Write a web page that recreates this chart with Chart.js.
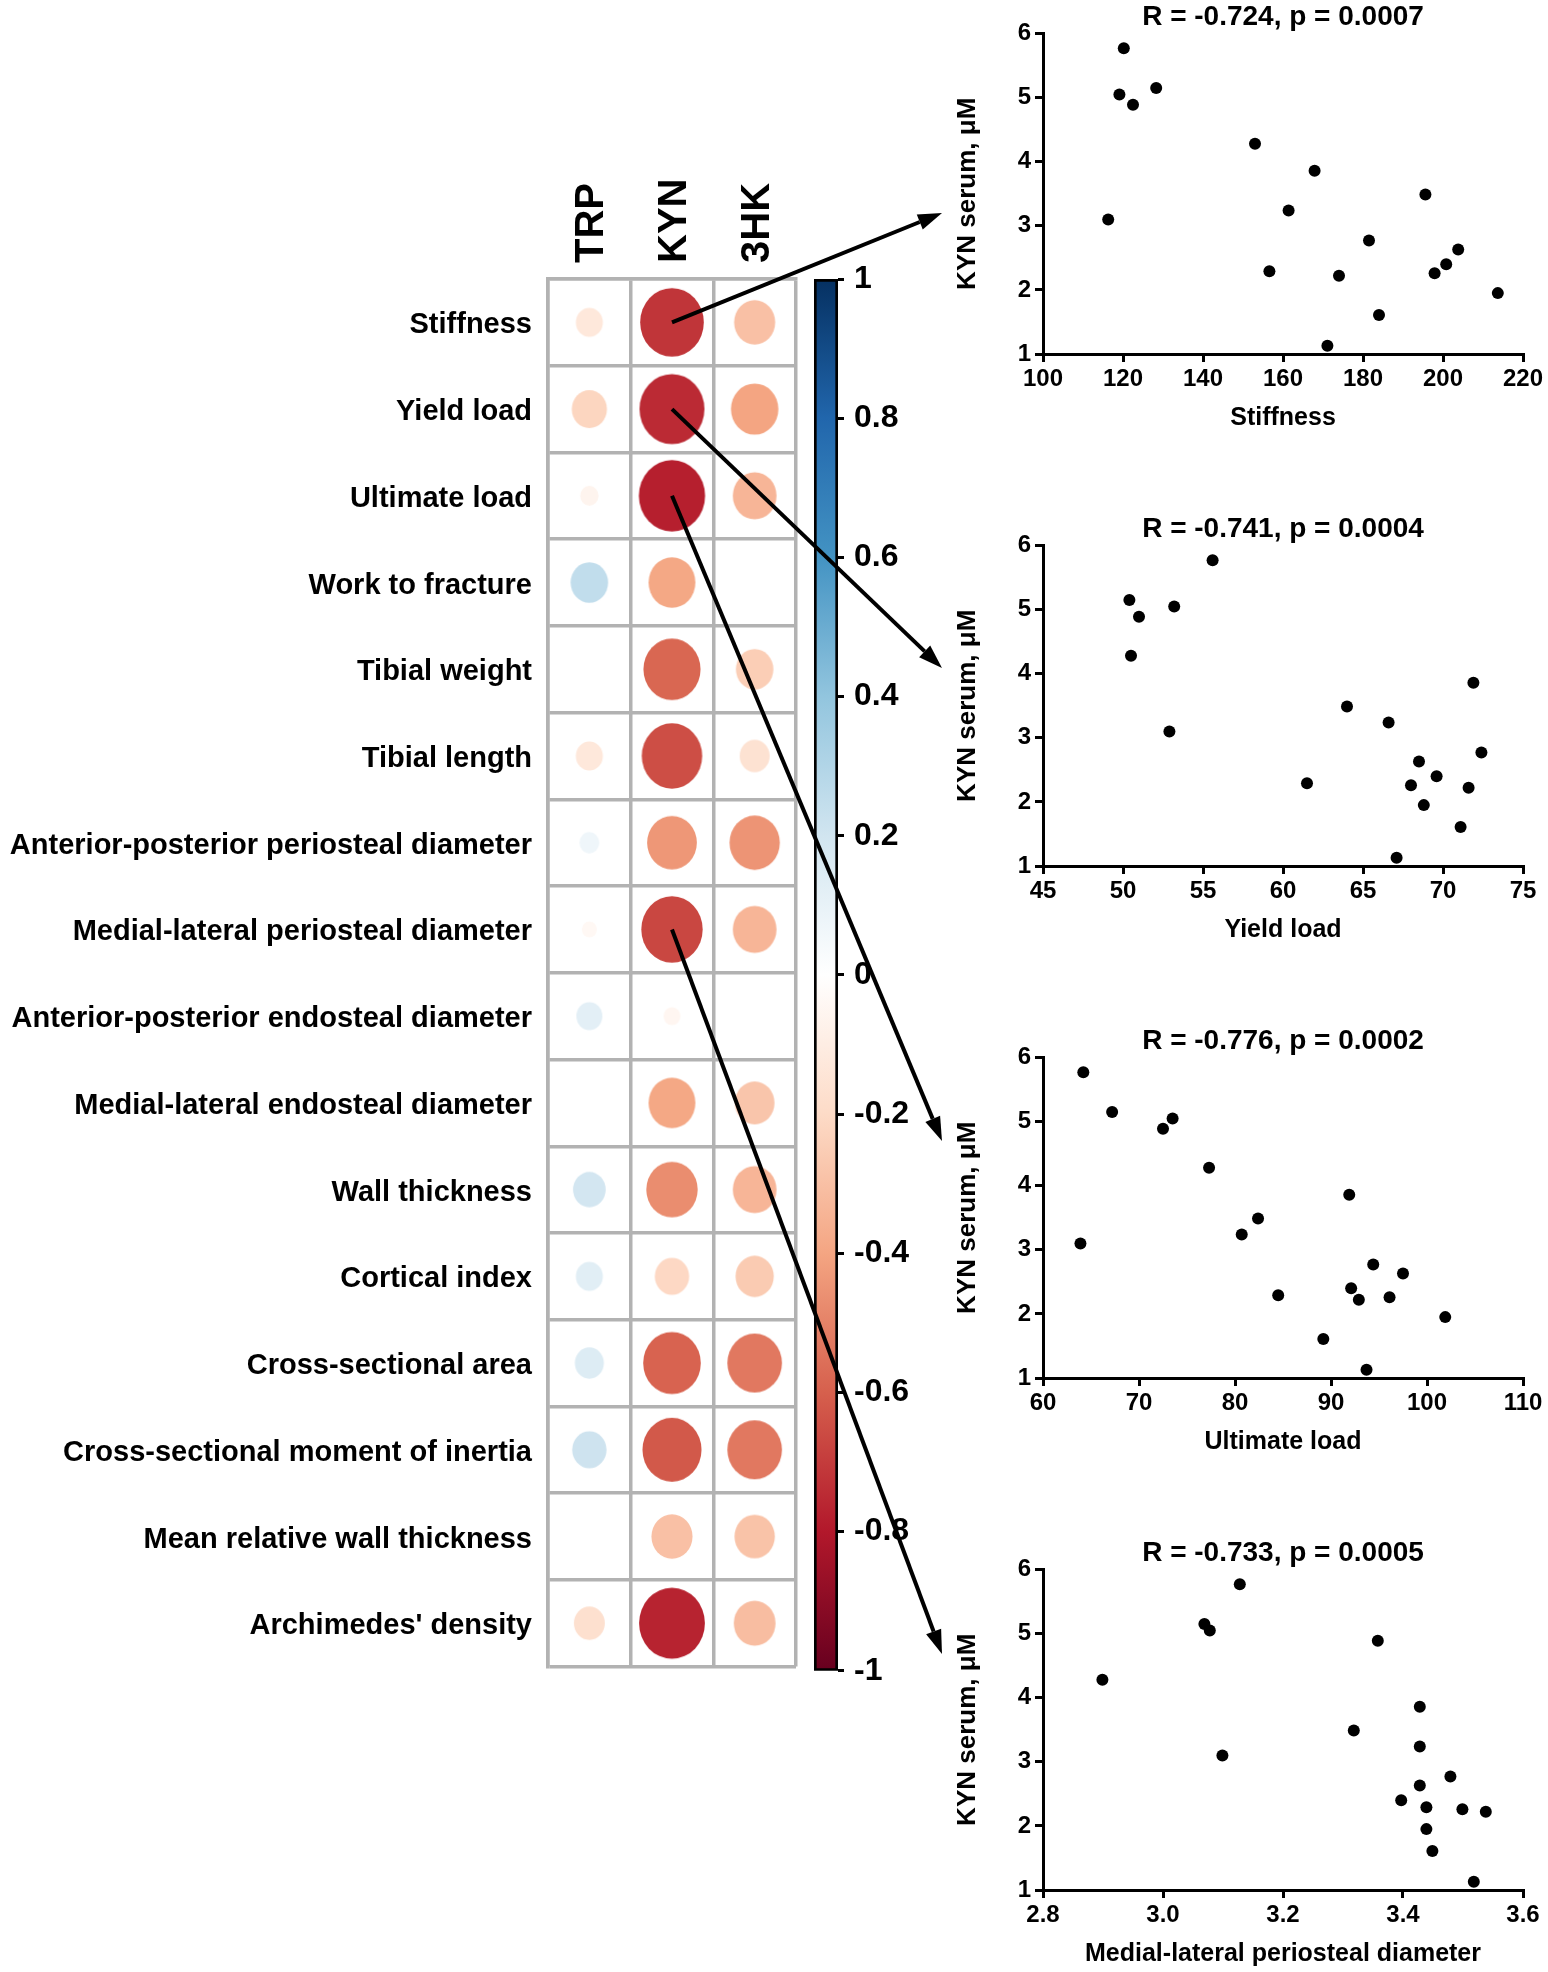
<!DOCTYPE html>
<html>
<head>
<meta charset="utf-8">
<script src="https://cdn.jsdelivr.net/npm/chart.js@4.4.1/dist/chart.umd.min.js"></script>
<style>
  body { margin: 0; background: #fff; }
  #page { position: relative; width: 1548px; height: 1972px; overflow: hidden; }
  canvas { position: absolute; }
</style>
</head>
<body>
<div id="page">
  <canvas id="matrix" width="800" height="1700" style="left:0;top:0;width:800px;height:1700px"></canvas>
  <canvas id="colorbar" width="120" height="1700" style="left:800px;top:0;width:120px;height:1700px"></canvas>
  <canvas id="sc0" width="608" height="436" style="left:940px;top:0;width:608px;height:436px"></canvas>
  <canvas id="sc1" width="608" height="436" style="left:940px;top:512px;width:608px;height:436px"></canvas>
  <canvas id="sc2" width="608" height="436" style="left:940px;top:1024px;width:608px;height:436px"></canvas>
  <canvas id="sc3" width="608" height="436" style="left:940px;top:1536px;width:608px;height:436px"></canvas>
  <canvas id="arrows" width="1548" height="1972" style="left:0;top:0;width:1548px;height:1972px;pointer-events:none"></canvas>
</div>
<script>
// --- dados da matriz de correlação ---
const metabolites = ["TRP", "KYN", "3HK"];
const boneParams = [
  "Stiffness", "Yield load", "Ultimate load", "Work to fracture", "Tibial weight",
  "Tibial length", "Anterior-posterior periosteal diameter", "Medial-lateral periosteal diameter",
  "Anterior-posterior endosteal diameter", "Medial-lateral endosteal diameter", "Wall thickness",
  "Cortical index", "Cross-sectional area", "Cross-sectional moment of inertia",
  "Mean relative wall thickness", "Archimedes' density"
];
// null = célula vazia
const corrTRP = [-0.13, -0.22, -0.06, 0.25, null, -0.13, 0.07, -0.04, 0.12, null, 0.19, 0.13, 0.15, 0.21, null, -0.17];
const corrKYN = [-0.72, -0.75, -0.78, -0.39, -0.58, -0.65, -0.44, -0.67, -0.05, -0.39, -0.47, -0.21, -0.59, -0.62, -0.30, -0.77];
const corr3HK = [-0.30, -0.40, -0.34, null, -0.25, -0.16, -0.45, -0.34, null, -0.28, -0.34, -0.26, -0.53, -0.53, -0.29, -0.31];

// --- dados dos gráficos de dispersão ---
const kynSerum     = [3.10, 5.05, 5.77, 4.89, 5.15, 4.28, 2.29, 3.24, 3.86, 1.13, 2.22, 2.77, 1.61, 3.49, 2.26, 2.40, 2.63, 1.95];
const stiffness    = [116.3, 119.1, 120.2, 122.5, 128.3, 153.0, 156.6, 161.4, 167.9, 171.1, 174.0, 181.5, 184.0, 195.6, 197.9, 200.8, 203.8, 213.7];
const yieldLoad    = [52.9, 53.2, 55.6, 51.0, 50.4, 50.5, 61.5, 66.6, 71.9, 67.1, 71.6, 72.4, 71.1, 64.0, 68.0, 69.6, 68.5, 68.8];
const ultimateLoad = [63.9, 73.5, 64.2, 72.5, 67.2, 77.3, 84.5, 80.7, 91.9, 93.7, 92.9, 94.4, 89.2, 82.4, 96.1, 92.1, 97.5, 101.9];
const mlPeriDiam   = [3.099, 3.078, 3.128, 3.358, 3.069, 2.899, 3.439, 3.428, 3.428, 3.518, 3.538, 3.479, 3.449, 3.318, 3.499, 3.397, 3.428, 3.439];
const scatterTitles = ["R = -0.724, p = 0.0007", "R = -0.741, p = 0.0004", "R = -0.776, p = 0.0002", "R = -0.733, p = 0.0005"];

const fontFam = "'Liberation Sans', Arial, sans-serif";
Chart.defaults.font.family = fontFam;
Chart.defaults.font.weight = "bold";
Chart.defaults.color = "#000";

// paleta RdBu (de -1 a 1)
const rdbu = ["#67001F", "#B2182B", "#D6604D", "#F4A582", "#FDDBC7", "#FFFFFF",
              "#D1E5F0", "#92C5DE", "#4393C3", "#2166AC", "#053061"];

function hexRgb(h) {
  return [parseInt(h.slice(1, 3), 16), parseInt(h.slice(3, 5), 16), parseInt(h.slice(5, 7), 16)];
}
function corColor(v) {
  let t = (v + 1) / 2 * 10;
  let i = Math.min(9, Math.floor(t));
  let f = t - i;
  let a = hexRgb(rdbu[i]), b = hexRgb(rdbu[i + 1]);
  let c = a.map((x, k) => Math.round(x + (b[k] - x) * f));
  return "rgb(" + c.join(",") + ")";
}

// elipse (um pouco mais alta que larga, como as células)
let ellipseCache = {};
function ellipseFor(v) {
  if (ellipseCache[v]) return ellipseCache[v];
  let s = Math.sqrt(Math.abs(v));
  let rx = 37.5 * s, ry = 40.5 * s;
  let c = document.createElement("canvas");
  c.width = Math.ceil(rx * 2) + 2;
  c.height = Math.ceil(ry * 2) + 2;
  let g = c.getContext("2d");
  g.fillStyle = corColor(v);
  g.beginPath();
  g.ellipse(c.width / 2, c.height / 2, rx, ry, 0, 0, Math.PI * 2);
  g.fill();
  ellipseCache[v] = c;
  return c;
}

// pontos da matriz
let matrixPoints = [];
[corrTRP, corrKYN, corr3HK].forEach((col, ci) => {
  col.forEach((v, ri) => {
    if (v !== null) matrixPoints.push({ x: metabolites[ci], y: boneParams[ri], v: v });
  });
});

const gridGray = "#b2b2b2";

// cabeçalhos das colunas (girados), na posição da escala x
const columnHeaders = {
  id: "columnHeaders",
  afterDraw(chart) {
    let ctx = chart.ctx, xs = chart.scales.x;
    ctx.save();
    ctx.font = "bold 40px " + fontFam;
    ctx.fillStyle = "#000";
    ctx.textAlign = "left";
    ctx.textBaseline = "alphabetic";
    metabolites.forEach((m, i) => {
      ctx.save();
      ctx.translate(xs.getPixelForValue(i), chart.chartArea.top - 16);
      ctx.rotate(-Math.PI / 2);
      ctx.fillText(m, 0, 14);
      ctx.restore();
    });
    ctx.restore();
  }
};

const matrixChart = new Chart(document.getElementById("matrix"), {
  type: "scatter",
  data: {
    datasets: [{
      data: matrixPoints,
      pointStyle: ctx => ctx.raw ? ellipseFor(ctx.raw.v) : "circle",
      pointRadius: ctx => ctx.raw ? 39 * Math.sqrt(Math.abs(ctx.raw.v)) : 0,
      pointBackgroundColor: ctx => ctx.raw ? corColor(ctx.raw.v) : "#fff",
      pointBorderWidth: 0
    }]
  },
  options: {
    responsive: false,
    animation: false,
    events: [],
    layout: { autoPadding: false, padding: { left: 0, top: 0, right: 4, bottom: 26 } },
    plugins: { legend: { display: false }, tooltip: { enabled: false } },
    scales: {
      x: {
        type: "category",
        labels: metabolites,
        position: "top",
        offset: true,
        grid: { offset: true, color: gridGray, lineWidth: 3.5, drawTicks: false },
        border: { color: gridGray, width: 3.5 },
        ticks: { display: false },
        afterFit: s => { s.height = 279; }
      },
      y: {
        type: "category",
        labels: boneParams,
        offset: true,
        grid: { offset: true, color: gridGray, lineWidth: 3.5, drawTicks: false },
        border: { color: gridGray, width: 3.5 },
        ticks: { font: { size: 29 }, autoSkip: false, padding: 16, labelOffset: 3 },
        afterFit: s => { s.width = 548; }
      }
    }
  },
  plugins: [columnHeaders]
});

// barra de cores
new Chart(document.getElementById("colorbar"), {
  type: "bar",
  data: {
    labels: [""],
    datasets: [{
      data: [[-1, 1]],
      backgroundColor: ctx => {
        let a = ctx.chart.chartArea;
        if (!a) return "#fff";
        let g = ctx.chart.ctx.createLinearGradient(0, a.bottom, 0, a.top);
        rdbu.forEach((c, i) => g.addColorStop(i / 10, c));
        return g;
      },
      borderColor: "#000",
      borderWidth: 3,
      borderSkipped: false,
      barPercentage: 1,
      categoryPercentage: 1
    }]
  },
  options: {
    responsive: false,
    animation: false,
    events: [],
    layout: { autoPadding: false, padding: { left: 14, top: 279, right: 0, bottom: 26 } },
    plugins: { legend: { display: false }, tooltip: { enabled: false } },
    scales: {
      x: { display: false },
      y: {
        position: "right",
        min: -1, max: 1,
        ticks: {
          stepSize: 0.2, font: { size: 32 }, padding: 10,
          callback: v => String(Math.round(v * 10) / 10)
        },
        grid: { drawOnChartArea: false, tickLength: 6, tickWidth: 3, tickColor: "#000" },
        border: { display: false },
        afterFit: s => { s.width = 82; }
      }
    }
  }
});

// dispersão
function makeScatter(id, xs, xTitle, title, xMin, xMax, xStep) {
  return new Chart(document.getElementById(id), {
    type: "scatter",
    data: {
      datasets: [{
        data: xs.map((x, i) => ({ x: x, y: kynSerum[i] })),
        pointRadius: 6,
        pointBackgroundColor: "#000",
        pointBorderWidth: 0
      }]
    },
    options: {
      responsive: false,
      animation: false,
      events: [],
      layout: { autoPadding: false, padding: { left: 0, top: 0, right: 25, bottom: 0 } },
      plugins: {
        legend: { display: false },
        tooltip: { enabled: false },
        title: {
          display: true, text: title, fullSize: false,
          font: { size: 28 }, padding: { top: 0, bottom: 0 }, color: "#000"
        }
      },
      scales: {
        x: {
          type: "linear", min: xMin, max: xMax,
          ticks: { stepSize: xStep, font: { size: 24 }, padding: 3 },
          grid: { drawOnChartArea: false, tickLength: 8, lineWidth: 3, color: "#000" },
          border: { color: "#000", width: 3 },
          title: { display: true, text: xTitle, font: { size: 25 }, padding: { top: 0, bottom: 3 } },
          afterFit: s => { s.height = 82; }
        },
        y: {
          min: 1, max: 6,
          ticks: { stepSize: 1, font: { size: 24 }, padding: 4 },
          grid: { drawOnChartArea: false, tickLength: 8, lineWidth: 3, color: "#000" },
          border: { color: "#000", width: 3 },
          title: { display: true, text: "KYN serum, μM", font: { size: 26 }, padding: { top: 12, bottom: 0 } },
          afterFit: s => { s.width = 103; }
        }
      }
    }
  });
}

makeScatter("sc0", stiffness, "Stiffness", scatterTitles[0], 100, 220, 20);
makeScatter("sc1", yieldLoad, "Yield load", scatterTitles[1], 45, 75, 5);
makeScatter("sc2", ultimateLoad, "Ultimate load", scatterTitles[2], 60, 110, 10);
makeScatter("sc3", mlPeriDiam, "Medial-lateral periosteal diameter", scatterTitles[3], 2.8, 3.6, 0.2);

// setas: da célula KYN até cada painel
const arrowRows = ["Stiffness", "Yield load", "Ultimate load", "Medial-lateral periosteal diameter"];
const panelTops = [0, 512, 1024, 1536];
const arrowTipY = [213, 156, 117, 118];

let actx = document.getElementById("arrows").getContext("2d");
actx.strokeStyle = "#000";
actx.fillStyle = "#000";
actx.lineWidth = 4;
arrowRows.forEach((row, i) => {
  let x0 = matrixChart.scales.x.getPixelForValue(1);
  let y0 = matrixChart.scales.y.getPixelForValue(boneParams.indexOf(row));
  let x1 = 942, y1 = panelTops[i] + arrowTipY[i];
  let ang = Math.atan2(y1 - y0, x1 - x0);
  let len = 24, hw = 8;
  let bx = x1 - len * Math.cos(ang), by = y1 - len * Math.sin(ang);
  actx.beginPath();
  actx.moveTo(x0, y0);
  actx.lineTo(bx, by);
  actx.stroke();
  actx.beginPath();
  actx.moveTo(x1, y1);
  actx.lineTo(bx + hw * Math.sin(ang), by - hw * Math.cos(ang));
  actx.lineTo(bx - hw * Math.sin(ang), by + hw * Math.cos(ang));
  actx.closePath();
  actx.fill();
});
</script>
</body>
</html>
